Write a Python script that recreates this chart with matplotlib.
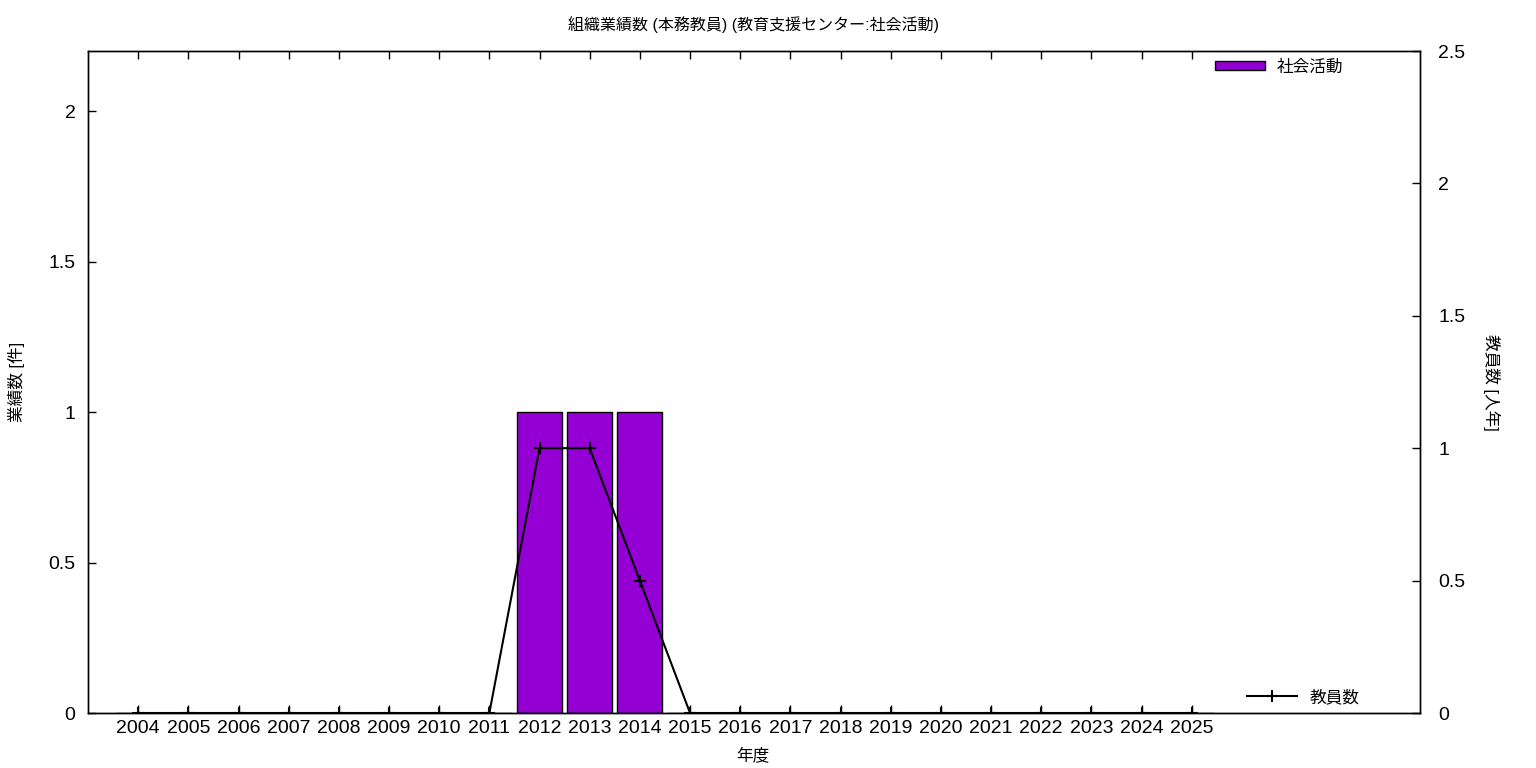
import matplotlib
matplotlib.use("Agg")
import matplotlib.pyplot as plt

plt.rcParams['font.family'] = ['Liberation Sans', 'Noto Sans CJK JP', 'DejaVu Sans']

# data
years = list(range(2004, 2026))
works = [0, 0, 0, 0, 0, 0, 0, 0, 1, 1, 1, 0, 0, 0, 0, 0, 0, 0, 0, 0, 0, 0]
staff = [0, 0, 0, 0, 0, 0, 0, 0, 1, 1, 0.5, 0, 0, 0, 0, 0, 0, 0, 0, 0, 0, 0]
bar_label = "社会活動"
line_label = "教員数"

W, H = 1536, 768
fig = plt.figure(figsize=(15.36, 7.68), dpi=100)
ax = fig.add_axes([88 / W, 1 - 713 / H, (1420 - 88) / W, (713 - 51) / H])
ax2 = ax.twinx()

bars = ax.bar(years, works, width=0.9, color="#9400d3", edgecolor="black",
              linewidth=1, label=bar_label, zorder=2)
line, = ax2.plot(years, staff, color="black", lw=1.5, marker="+", ms=9,
                 mew=1.5, label=line_label, zorder=3)

ax.set_xlim(2003, 2029.55)
ax.set_ylim(0, 2.2)
ax2.set_ylim(0, 2.5)
ax.set_xticks(years)
ax.set_yticks([0, 0.5, 1, 1.5, 2])
ax.set_yticklabels(["0", "0.5", "1", "1.5", "2"])
ax2.set_yticks([0, 0.5, 1, 1.5, 2, 2.5])
ax2.set_yticklabels(["0", "0.5", "1", "1.5", "2", "2.5"])

ax.tick_params(axis="x", direction="in", top=True, length=6, width=1,
               labelsize=14, pad=5)
ax.tick_params(axis="y", direction="in", right=False, length=6, width=1,
               labelsize=14, pad=9)
ax2.tick_params(axis="y", direction="in", length=6, width=1,
                labelsize=14, pad=13)

for a in (ax, ax2):
    for s in a.spines.values():
        s.set_linewidth(1)

# axis labels and title placed like the reference
fig.text(753 / W, 1 - 755 / H, "年度", fontsize=12, ha="center", va="center")
fig.text(16 / W, 1 - 382 / H, "業績数 [件]", fontsize=12, rotation=90,
         ha="center", va="center")
fig.text(1492 / W, 1 - 382 / H, "教員数 [人年]", fontsize=12, rotation=270,
         ha="center", va="center")
fig.text(753 / W, 1 - 25 / H, "組織業績数 (本務教員) (教育支援センター:社会活動)",
         fontsize=11.5, ha="center", va="center")

leg1 = fig.legend(handles=[bars], loc="center left", frameon=False, fontsize=12,
                  handlelength=3.0, handleheight=0.5, handletextpad=0.72,
                  borderpad=0, borderaxespad=0,
                  bbox_to_anchor=(1215 / W, 1 - 67 / H))
fig.legend(handles=[line], loc="center left", frameon=False, fontsize=12,
           handlelength=3.0, handletextpad=0.78, borderpad=0, borderaxespad=0,
           bbox_to_anchor=(1247 / W, 1 - 697 / H))

fig.savefig("out.png", dpi=100)
